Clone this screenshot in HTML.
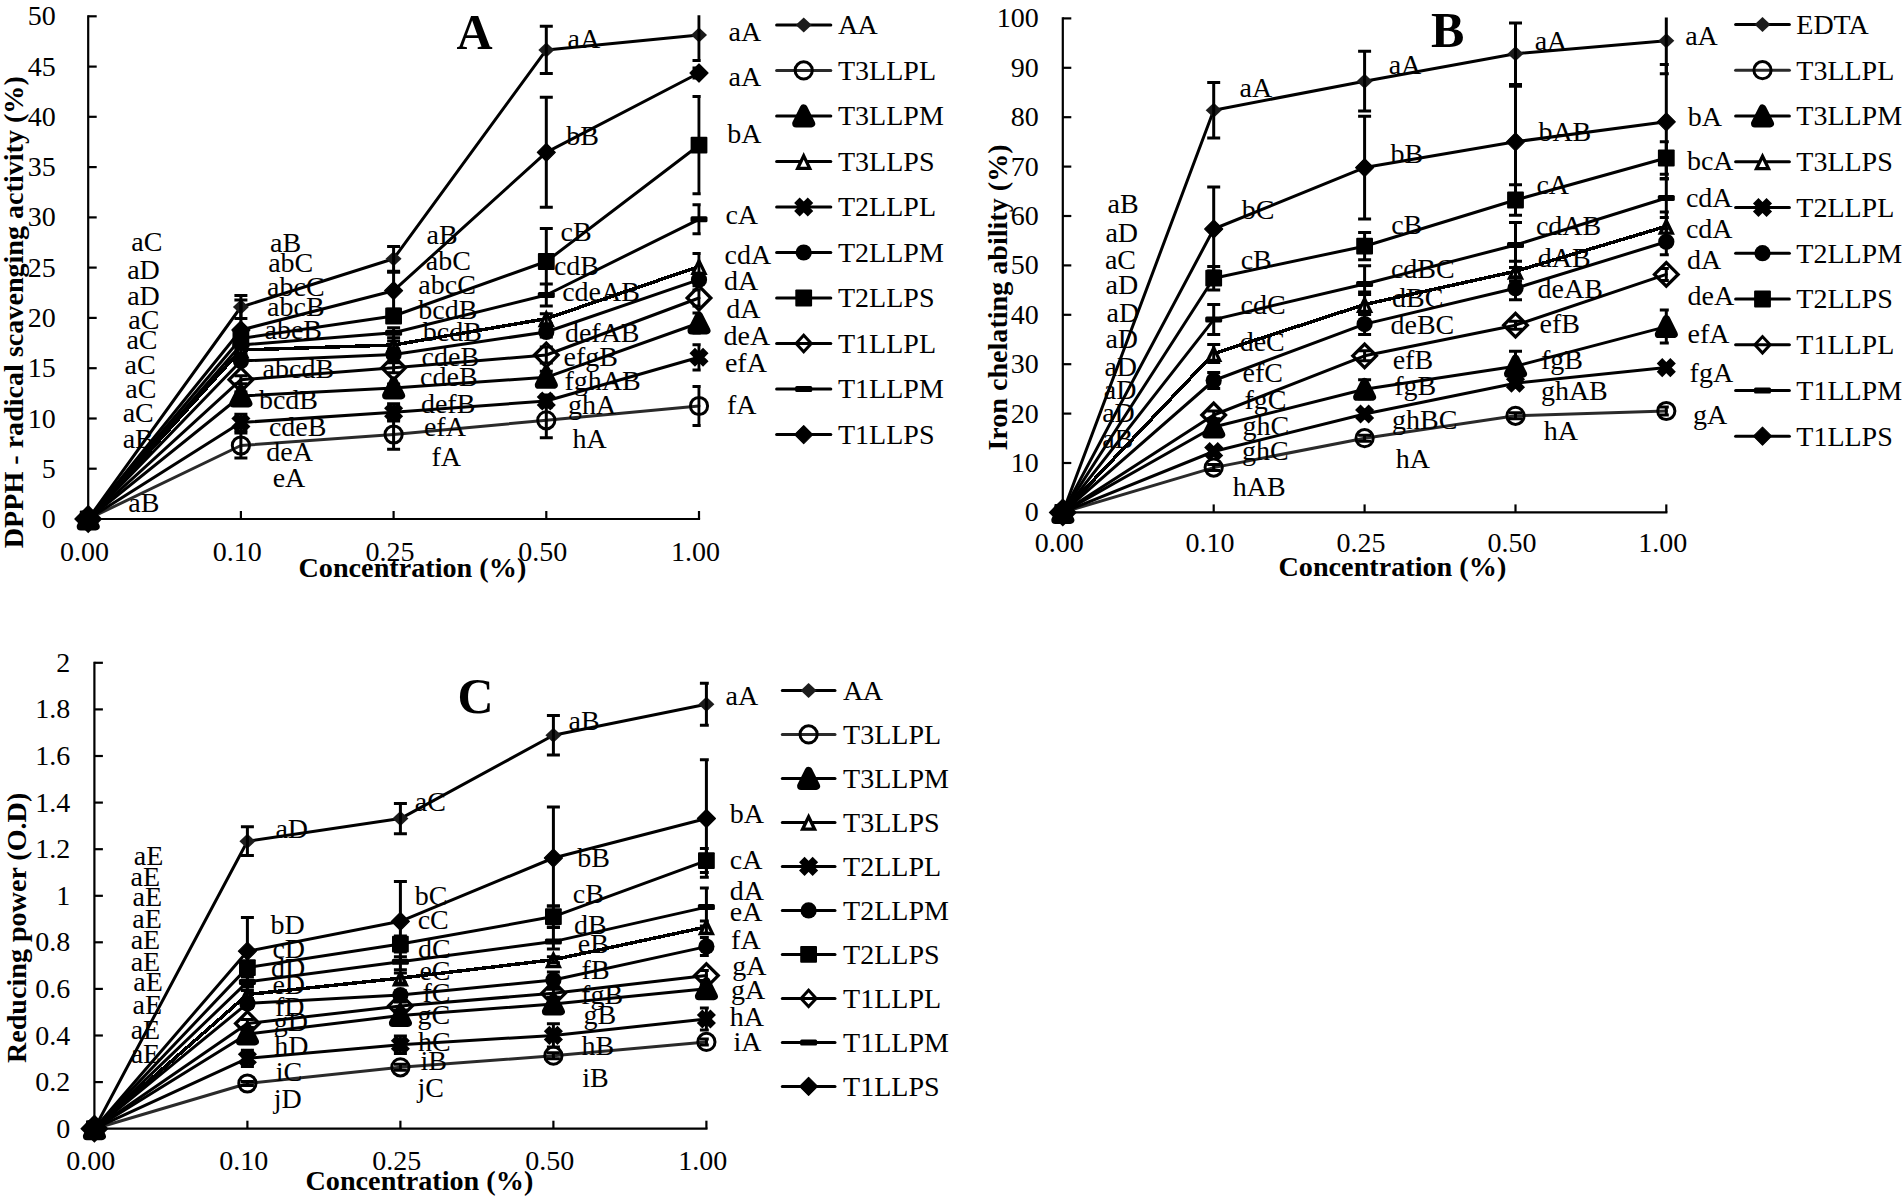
<!DOCTYPE html>
<html lang="en"><head><meta charset="utf-8"><title>Antioxidant activity charts</title>
<style>html,body{margin:0;padding:0;background:#fff}body{width:1904px;height:1200px;overflow:hidden}svg{display:block}</style></head>
<body>
<svg width="1904" height="1200" viewBox="0 0 1904 1200" font-family="'Liberation Serif', serif" font-size="28" fill="#000">
<defs><filter id="soft" x="-30%" y="-30%" width="160%" height="160%"><feGaussianBlur stdDeviation="0.55"/></filter></defs>
<rect width="1904" height="1200" fill="#fff"/>
<g id="chartA">
<clipPath id="clipA"><rect x="68.2" y="15.3" width="632.5" height="532.7"/></clipPath>
<polyline points="88.2,519 240.9,307 393.6,258.8 546.3,49.9 699,34.9" fill="none" stroke="#000" stroke-width="3.0" stroke-linejoin="round" stroke-linecap="round"/>
<path d="M80.2 519L88.2 511.5L96.2 519L88.2 526.5Z" fill="#1c1c1c" filter="url(#soft)"/>
<path d="M232.9 307L240.9 299.5L248.9 307L240.9 314.5Z" fill="#1c1c1c" filter="url(#soft)"/>
<path d="M385.6 258.8L393.6 251.3L401.6 258.8L393.6 266.3Z" fill="#1c1c1c" filter="url(#soft)"/>
<path d="M538.3 49.9L546.3 42.4L554.3 49.9L546.3 57.4Z" fill="#1c1c1c" filter="url(#soft)"/>
<path d="M691.0 34.9L699 27.4L707.0 34.9L699 42.4Z" fill="#1c1c1c" filter="url(#soft)"/>
<path clip-path="url(#clipA)" stroke="#000" stroke-width="3" fill="none" d="M240.9 295.5V318.5M234.4 295.5H247.4M234.4 318.5H247.4M393.6 246.4V271.2M387.1 246.4H400.1M387.1 271.2H400.1M546.3 26.3V73.5M539.8 26.3H552.8M539.8 73.5H552.8M699 9.4V60.4M692.5 9.4H705.5M692.5 60.4H705.5"/>
<polyline points="88.2,519 240.9,445.5 393.6,434.5 546.3,420.3 699,406" fill="none" stroke="#2a2a2a" stroke-width="3.0" stroke-linejoin="round" stroke-linecap="round"/>
<circle cx="88.2" cy="519" r="8.6" fill="none" stroke="#000" stroke-width="3"/>
<circle cx="240.9" cy="445.5" r="8.6" fill="none" stroke="#000" stroke-width="3"/>
<circle cx="393.6" cy="434.5" r="8.6" fill="none" stroke="#000" stroke-width="3"/>
<circle cx="546.3" cy="420.3" r="8.6" fill="none" stroke="#000" stroke-width="3"/>
<circle cx="699" cy="406" r="8.6" fill="none" stroke="#000" stroke-width="3"/>
<path clip-path="url(#clipA)" stroke="#000" stroke-width="3" fill="none" d="M240.9 433.0V458.0M234.4 433.0H247.4M234.4 458.0H247.4M393.6 419.7V449.3M387.1 419.7H400.1M387.1 449.3H400.1M546.3 402.8V437.8M539.8 402.8H552.8M539.8 437.8H552.8M699 386.6V425.4M692.5 386.6H705.5M692.5 425.4H705.5"/>
<polyline points="88.2,519 240.9,396 393.6,388 546.3,377.3 699,323" fill="none" stroke="#000" stroke-width="3.0" stroke-linejoin="round" stroke-linecap="round"/>
<path d="M88.2 511.4L95.8 526.6L80.6 526.6Z" fill="#000" stroke="#000" stroke-width="7.8" stroke-linejoin="round"/>
<path d="M240.9 388.4L248.5 403.6L233.3 403.6Z" fill="#000" stroke="#000" stroke-width="7.8" stroke-linejoin="round"/>
<path d="M393.6 380.4L401.2 395.6L386.0 395.6Z" fill="#000" stroke="#000" stroke-width="7.8" stroke-linejoin="round"/>
<path d="M546.3 369.7L553.9 384.9L538.7 384.9Z" fill="#000" stroke="#000" stroke-width="7.8" stroke-linejoin="round"/>
<path d="M699 315.4L706.6 330.6L691.4 330.6Z" fill="#000" stroke="#000" stroke-width="7.8" stroke-linejoin="round"/>
<path clip-path="url(#clipA)" stroke="#000" stroke-width="3" fill="none" d="M240.9 392.0V400.0M234.4 392.0H247.4M234.4 400.0H247.4M393.6 384.0V392.0M387.1 384.0H400.1M387.1 392.0H400.1M546.3 371.3V383.3M539.8 371.3H552.8M539.8 383.3H552.8M699 313.0V333.0M692.5 313.0H705.5M692.5 333.0H705.5"/>
<polyline points="88.2,519 240.9,350 393.6,345 546.3,318.7 699,266.5" fill="none" stroke="#000" stroke-width="3.5" stroke-linejoin="round" stroke-linecap="round" shape-rendering="crispEdges"/>
<path d="M88.2 513.4L94.2 525.8L82.2 525.8Z" fill="#fff" stroke="#000" stroke-width="3.3" stroke-linejoin="miter"/>
<path d="M240.9 344.4L246.9 356.8L234.9 356.8Z" fill="#fff" stroke="#000" stroke-width="3.3" stroke-linejoin="miter"/>
<path d="M393.6 339.4L399.6 351.8L387.6 351.8Z" fill="#fff" stroke="#000" stroke-width="3.3" stroke-linejoin="miter"/>
<path d="M546.3 313.1L552.3 325.5L540.3 325.5Z" fill="#fff" stroke="#000" stroke-width="3.3" stroke-linejoin="miter"/>
<path d="M699 260.9L705 273.3L693 273.3Z" fill="#fff" stroke="#000" stroke-width="3.3" stroke-linejoin="miter"/>
<path clip-path="url(#clipA)" stroke="#000" stroke-width="3" fill="none" d="M240.9 347.0V353.0M234.4 347.0H247.4M234.4 353.0H247.4M393.6 341.0V349.0M387.1 341.0H400.1M387.1 349.0H400.1M546.3 313.7V323.7M539.8 313.7H552.8M539.8 323.7H552.8M699 253.5V279.5M692.5 253.5H705.5M692.5 279.5H705.5"/>
<polyline points="88.2,519 240.9,422.5 393.6,412.3 546.3,401 699,357.3" fill="none" stroke="#000" stroke-width="3.0" stroke-linejoin="round" stroke-linecap="round"/>
<path d="M81.4 512.2L95.0 525.8M81.4 525.8L95.0 512.2" stroke="#000" stroke-width="7.8" stroke-linecap="butt" fill="none"/>
<path d="M234.1 415.7L247.7 429.3M234.1 429.3L247.7 415.7" stroke="#000" stroke-width="7.8" stroke-linecap="butt" fill="none"/>
<path d="M386.8 405.5L400.4 419.1M386.8 419.1L400.4 405.5" stroke="#000" stroke-width="7.8" stroke-linecap="butt" fill="none"/>
<path d="M539.5 394.2L553.1 407.8M539.5 407.8L553.1 394.2" stroke="#000" stroke-width="7.8" stroke-linecap="butt" fill="none"/>
<path d="M692.2 350.5L705.8 364.1M692.2 364.1L705.8 350.5" stroke="#000" stroke-width="7.8" stroke-linecap="butt" fill="none"/>
<path clip-path="url(#clipA)" stroke="#000" stroke-width="3" fill="none" d="M240.9 414.2V430.8M234.4 414.2H247.4M234.4 430.8H247.4M393.6 403.7V420.9M387.1 403.7H400.1M387.1 420.9H400.1M546.3 395.0V407.0M539.8 395.0H552.8M539.8 407.0H552.8M699 344.7V369.9M692.5 344.7H705.5M692.5 369.9H705.5"/>
<polyline points="88.2,519 240.9,361 393.6,354.4 546.3,332 699,279.7" fill="none" stroke="#000" stroke-width="3.0" stroke-linejoin="round" stroke-linecap="round"/>
<circle cx="88.2" cy="519" r="8.1" fill="#000"/>
<circle cx="240.9" cy="361" r="8.1" fill="#000"/>
<circle cx="393.6" cy="354.4" r="8.1" fill="#000"/>
<circle cx="546.3" cy="332" r="8.1" fill="#000"/>
<circle cx="699" cy="279.7" r="8.1" fill="#000"/>
<path clip-path="url(#clipA)" stroke="#000" stroke-width="3" fill="none" d="M240.9 358.0V364.0M234.4 358.0H247.4M234.4 364.0H247.4M393.6 351.4V357.4M387.1 351.4H400.1M387.1 357.4H400.1M546.3 327.0V337.0M539.8 327.0H552.8M539.8 337.0H552.8M699 273.7V285.7M692.5 273.7H705.5M692.5 285.7H705.5"/>
<polyline points="88.2,519 240.9,338.5 393.6,316 546.3,261.5 699,145.2" fill="none" stroke="#000" stroke-width="3.0" stroke-linejoin="round" stroke-linecap="round"/>
<rect x="79.8" y="510.6" width="16.8" height="16.8" rx="1" fill="#000"/>
<rect x="232.5" y="330.1" width="16.8" height="16.8" rx="1" fill="#000"/>
<rect x="385.2" y="307.6" width="16.8" height="16.8" rx="1" fill="#000"/>
<rect x="537.9" y="253.1" width="16.8" height="16.8" rx="1" fill="#000"/>
<rect x="690.6" y="136.8" width="16.8" height="16.8" rx="1" fill="#000"/>
<path clip-path="url(#clipA)" stroke="#000" stroke-width="3" fill="none" d="M240.9 334.5V342.5M234.4 334.5H247.4M234.4 342.5H247.4M393.6 310.0V322.0M387.1 310.0H400.1M387.1 322.0H400.1M546.3 228.5V294.5M539.8 228.5H552.8M539.8 294.5H552.8M699 96.6V193.8M692.5 96.6H705.5M692.5 193.8H705.5"/>
<polyline points="88.2,519 240.9,379.7 393.6,367.8 546.3,355 699,298" fill="none" stroke="#000" stroke-width="3.0" stroke-linejoin="round" stroke-linecap="round"/>
<path d="M76.4 519L88.2 507.2L100.0 519L88.2 530.8Z" fill="none" stroke="#000" stroke-width="3.3" stroke-linejoin="miter"/>
<path d="M229.1 379.7L240.9 367.9L252.7 379.7L240.9 391.5Z" fill="none" stroke="#000" stroke-width="3.3" stroke-linejoin="miter"/>
<path d="M381.8 367.8L393.6 356.0L405.4 367.8L393.6 379.6Z" fill="none" stroke="#000" stroke-width="3.3" stroke-linejoin="miter"/>
<path d="M534.5 355L546.3 343.2L558.1 355L546.3 366.8Z" fill="none" stroke="#000" stroke-width="3.3" stroke-linejoin="miter"/>
<path d="M687.2 298L699 286.2L710.8 298L699 309.8Z" fill="none" stroke="#000" stroke-width="3.3" stroke-linejoin="miter"/>
<path clip-path="url(#clipA)" stroke="#000" stroke-width="3" fill="none" d="M240.9 375.7V383.7M234.4 375.7H247.4M234.4 383.7H247.4M393.6 362.8V372.8M387.1 362.8H400.1M387.1 372.8H400.1M546.3 347.0V363.0M539.8 347.0H552.8M539.8 363.0H552.8M699 290.0V306.0M692.5 290.0H705.5M692.5 306.0H705.5"/>
<polyline points="88.2,519 240.9,345 393.6,332.8 546.3,295 699,219.3" fill="none" stroke="#000" stroke-width="3.0" stroke-linejoin="round" stroke-linecap="round"/>
<rect x="79.7" y="516" width="17" height="6" rx="1.5" fill="#000"/>
<rect x="232.4" y="342" width="17" height="6" rx="1.5" fill="#000"/>
<rect x="385.1" y="329.8" width="17" height="6" rx="1.5" fill="#000"/>
<rect x="537.8" y="292" width="17" height="6" rx="1.5" fill="#000"/>
<rect x="690.5" y="216.3" width="17" height="6" rx="1.5" fill="#000"/>
<path clip-path="url(#clipA)" stroke="#000" stroke-width="3" fill="none" d="M240.9 341.0V349.0M234.4 341.0H247.4M234.4 349.0H247.4M393.6 327.8V337.8M387.1 327.8H400.1M387.1 337.8H400.1M546.3 284.0V306.0M539.8 284.0H552.8M539.8 306.0H552.8M699 204.8V233.8M692.5 204.8H705.5M692.5 233.8H705.5"/>
<polyline points="88.2,519 240.9,330 393.6,290.7 546.3,152.3 699,73" fill="none" stroke="#000" stroke-width="3.0" stroke-linejoin="round" stroke-linecap="round"/>
<path d="M79.2 519L88.2 510L97.2 519L88.2 528Z" fill="#000" stroke="#000" stroke-width="1.2" stroke-linejoin="round"/>
<path d="M231.9 330L240.9 321L249.9 330L240.9 339Z" fill="#000" stroke="#000" stroke-width="1.2" stroke-linejoin="round"/>
<path d="M384.6 290.7L393.6 281.7L402.6 290.7L393.6 299.7Z" fill="#000" stroke="#000" stroke-width="1.2" stroke-linejoin="round"/>
<path d="M537.3 152.3L546.3 143.3L555.3 152.3L546.3 161.3Z" fill="#000" stroke="#000" stroke-width="1.2" stroke-linejoin="round"/>
<path d="M690 73L699 64L708 73L699 82Z" fill="#000" stroke="#000" stroke-width="1.2" stroke-linejoin="round"/>
<path clip-path="url(#clipA)" stroke="#000" stroke-width="3" fill="none" d="M240.9 300.0V335.0M234.4 300.0H247.4M234.4 335.0H247.4M393.6 272.2V309.2M387.1 272.2H400.1M387.1 309.2H400.1M546.3 97.3V207.3M539.8 97.3H552.8M539.8 207.3H552.8M699 68.0V78.0M692.5 68.0H705.5M692.5 78.0H705.5"/>
<path d="M88.2 16.3V519H699" fill="none" stroke="#000" stroke-width="2.2" stroke-linejoin="miter" stroke-linecap="square"/>
<path d="M88.2 519.0h8.5" stroke="#000" stroke-width="2.2"/>
<text x="55.8" y="528.0" text-anchor="end">0</text>
<path d="M88.2 468.7h8.5" stroke="#000" stroke-width="2.2"/>
<text x="55.8" y="477.7" text-anchor="end">5</text>
<path d="M88.2 418.5h8.5" stroke="#000" stroke-width="2.2"/>
<text x="55.8" y="427.5" text-anchor="end">10</text>
<path d="M88.2 368.2h8.5" stroke="#000" stroke-width="2.2"/>
<text x="55.8" y="377.2" text-anchor="end">15</text>
<path d="M88.2 317.9h8.5" stroke="#000" stroke-width="2.2"/>
<text x="55.8" y="326.9" text-anchor="end">20</text>
<path d="M88.2 267.6h8.5" stroke="#000" stroke-width="2.2"/>
<text x="55.8" y="276.6" text-anchor="end">25</text>
<path d="M88.2 217.4h8.5" stroke="#000" stroke-width="2.2"/>
<text x="55.8" y="226.4" text-anchor="end">30</text>
<path d="M88.2 167.1h8.5" stroke="#000" stroke-width="2.2"/>
<text x="55.8" y="176.1" text-anchor="end">35</text>
<path d="M88.2 116.8h8.5" stroke="#000" stroke-width="2.2"/>
<text x="55.8" y="125.8" text-anchor="end">40</text>
<path d="M88.2 66.6h8.5" stroke="#000" stroke-width="2.2"/>
<text x="55.8" y="75.6" text-anchor="end">45</text>
<path d="M88.2 16.3h8.5" stroke="#000" stroke-width="2.2"/>
<text x="55.8" y="25.3" text-anchor="end">50</text>
<path d="M88.2 519v-8" stroke="#000" stroke-width="2.2"/>
<text x="84.6" y="560.6" text-anchor="middle">0.00</text>
<path d="M240.9 519v-8" stroke="#000" stroke-width="2.2"/>
<text x="237.3" y="560.6" text-anchor="middle">0.10</text>
<path d="M393.6 519v-8" stroke="#000" stroke-width="2.2"/>
<text x="390.0" y="560.6" text-anchor="middle">0.25</text>
<path d="M546.3 519v-8" stroke="#000" stroke-width="2.2"/>
<text x="542.7" y="560.6" text-anchor="middle">0.50</text>
<path d="M699 519v-8" stroke="#000" stroke-width="2.2"/>
<text x="695.4" y="560.6" text-anchor="middle">1.00</text>
<text x="412.4" y="576.8" text-anchor="middle" font-weight="bold" font-size="28.2">Concentration (%)</text>
<text transform="translate(23.2 312.2) rotate(-90)" text-anchor="middle" font-weight="bold" font-size="28.1">DPPH - radical scavenging activity (%)</text>
<text x="456.6" y="49" font-weight="bold" font-size="50">A</text>
<text x="131.3" y="251.0">aC</text>
<text x="127.2" y="279.1">aD</text>
<text x="127.2" y="305.4">aD</text>
<text x="128.3" y="328.6">aC</text>
<text x="126.4" y="348.6">aC</text>
<text x="124.6" y="373.6">aC</text>
<text x="125.3" y="398.4">aC</text>
<text x="122.7" y="422.4">aC</text>
<text x="122.7" y="447.9">aB</text>
<text x="128.3" y="511.6">aB</text>
<text x="270.1" y="252.1">aB</text>
<text x="268.2" y="272.4">abC</text>
<text x="267.1" y="296.0">abcC</text>
<text x="267.1" y="315.9">abcB</text>
<text x="264.5" y="339.1">abeB</text>
<text x="262.6" y="377.8">abcdB</text>
<text x="258.9" y="408.6">bcdB</text>
<text x="268.9" y="435.6">cdeB</text>
<text x="266.3" y="461.1">deA</text>
<text x="272.7" y="487.3">eA</text>
<text x="426.5" y="243.5">aB</text>
<text x="425.8" y="269.8">abC</text>
<text x="418.3" y="294.1">abcC</text>
<text x="418.3" y="318.5">bcdB</text>
<text x="422.8" y="341.0">bcdB</text>
<text x="421.6" y="366.2">cdeB</text>
<text x="420.1" y="386.0">cdeB</text>
<text x="420.9" y="413.0">defB</text>
<text x="423.9" y="435.9">efA</text>
<text x="431.4" y="465.9">fA</text>
<text x="567.6" y="48.3">aA</text>
<text x="566.3" y="144.7">bB</text>
<text x="560.5" y="240.6">cB</text>
<text x="553.9" y="274.7">cdB</text>
<text x="562.2" y="300.8">cdeAB</text>
<text x="564.9" y="342.4">defAB</text>
<text x="563.6" y="365.6">efgB</text>
<text x="564.4" y="389.6">fghAB</text>
<text x="568.1" y="414.1">ghA</text>
<text x="572.4" y="448.3">hA</text>
<text x="728.6" y="40.5">aA</text>
<text x="728.6" y="86.2">aA</text>
<text x="727.3" y="142.9">bA</text>
<text x="725.4" y="224.3">cA</text>
<text x="724.6" y="263.6">cdA</text>
<text x="723.9" y="289.9">dA</text>
<text x="726.2" y="317.6">dA</text>
<text x="723.6" y="345.1">deA</text>
<text x="724.9" y="372.3">efA</text>
<text x="726.9" y="414.1">fA</text>
<path d="M776.6 24.9H830.8" stroke="#000" stroke-width="3.0" stroke-linecap="round"/>
<path d="M795.7 24.9L803.7 17.4L811.7 24.9L803.7 32.4Z" fill="#1c1c1c" filter="url(#soft)"/>
<text x="838" y="34.2" letter-spacing="-0.6">AA</text>
<path d="M776.6 70.4H830.8" stroke="#2a2a2a" stroke-width="3.0" stroke-linecap="round"/>
<circle cx="803.7" cy="70.4" r="8.6" fill="none" stroke="#000" stroke-width="3"/>
<text x="838" y="79.7" letter-spacing="0">T3LLPL</text>
<path d="M776.6 115.9H830.8" stroke="#000" stroke-width="3.0" stroke-linecap="round"/>
<path d="M803.7 108.3L811.3 123.5L796.1 123.5Z" fill="#000" stroke="#000" stroke-width="7.8" stroke-linejoin="round"/>
<text x="838" y="125.2" letter-spacing="0">T3LLPM</text>
<path d="M776.6 161.5H830.8" stroke="#000" stroke-width="3.0" stroke-linecap="round"/>
<path d="M803.7 155.9L809.7 168.3L797.7 168.3Z" fill="#fff" stroke="#000" stroke-width="3.3" stroke-linejoin="miter"/>
<text x="838" y="170.8" letter-spacing="0">T3LLPS</text>
<path d="M776.6 207.0H830.8" stroke="#000" stroke-width="3.0" stroke-linecap="round"/>
<path d="M796.9 200.2L810.5 213.8M796.9 213.8L810.5 200.2" stroke="#000" stroke-width="7.8" stroke-linecap="butt" fill="none"/>
<text x="838" y="216.3" letter-spacing="0">T2LLPL</text>
<path d="M776.6 252.5H830.8" stroke="#000" stroke-width="3.0" stroke-linecap="round"/>
<circle cx="803.7" cy="252.5" r="8.1" fill="#000"/>
<text x="838" y="261.8" letter-spacing="0">T2LLPM</text>
<path d="M776.6 298.0H830.8" stroke="#000" stroke-width="3.0" stroke-linecap="round"/>
<rect x="795.3" y="289.6" width="16.8" height="16.8" rx="1" fill="#000"/>
<text x="838" y="307.3" letter-spacing="0">T2LLPS</text>
<path d="M776.6 343.5H830.8" stroke="#000" stroke-width="3.0" stroke-linecap="round"/>
<path d="M796.1 343.5L803.7 335.3L811.3 343.5L803.7 351.7Z" fill="none" stroke="#000" stroke-width="3" stroke-linejoin="miter"/>
<text x="838" y="352.8" letter-spacing="0">T1LLPL</text>
<path d="M776.6 389.1H830.8" stroke="#000" stroke-width="3.0" stroke-linecap="round"/>
<rect x="795.2" y="386.1" width="17" height="6" rx="1.5" fill="#000"/>
<text x="838" y="398.4" letter-spacing="0">T1LLPM</text>
<path d="M776.6 434.6H830.8" stroke="#000" stroke-width="3.0" stroke-linecap="round"/>
<path d="M794.7 434.6L803.7 425.6L812.7 434.6L803.7 443.6Z" fill="#000" stroke="#000" stroke-width="1.2" stroke-linejoin="round"/>
<text x="838" y="443.9" letter-spacing="0">T1LLPS</text>
</g>
<g id="chartB">
<clipPath id="clipB"><rect x="1042.8" y="17.4" width="626.0" height="524.0"/></clipPath>
<polyline points="1062.8,512.4 1213.7,110.2 1364.6,81.2 1515.5,53.75 1666.3,40.75" fill="none" stroke="#000" stroke-width="3.0" stroke-linejoin="round" stroke-linecap="round"/>
<path d="M1054.8 512.4L1062.8 504.9L1070.8 512.4L1062.8 519.9Z" fill="#1c1c1c" filter="url(#soft)"/>
<path d="M1205.7 110.2L1213.7 102.7L1221.7 110.2L1213.7 117.7Z" fill="#1c1c1c" filter="url(#soft)"/>
<path d="M1356.6 81.2L1364.6 73.7L1372.6 81.2L1364.6 88.7Z" fill="#1c1c1c" filter="url(#soft)"/>
<path d="M1507.5 53.8L1515.5 46.3L1523.5 53.8L1515.5 61.3Z" fill="#1c1c1c" filter="url(#soft)"/>
<path d="M1658.3 40.8L1666.3 33.3L1674.3 40.8L1666.3 48.3Z" fill="#1c1c1c" filter="url(#soft)"/>
<path clip-path="url(#clipB)" stroke="#000" stroke-width="3" fill="none" d="M1213.7 82.4V138.0M1207.2 82.4H1220.2M1207.2 138.0H1220.2M1364.6 51.3V111.1M1358.1 51.3H1371.1M1358.1 111.1H1371.1M1515.5 22.9V84.5M1509.0 22.9H1522.0M1509.0 84.5H1522.0M1666.3 7.8V73.8M1659.8 7.8H1672.8M1659.8 73.8H1672.8"/>
<polyline points="1062.8,512.4 1213.7,467.6 1364.6,438.2 1515.5,415.8 1666.3,411" fill="none" stroke="#2a2a2a" stroke-width="3.0" stroke-linejoin="round" stroke-linecap="round"/>
<circle cx="1062.8" cy="512.4" r="8.6" fill="none" stroke="#000" stroke-width="3"/>
<circle cx="1213.7" cy="467.6" r="8.6" fill="none" stroke="#000" stroke-width="3"/>
<circle cx="1364.6" cy="438.2" r="8.6" fill="none" stroke="#000" stroke-width="3"/>
<circle cx="1515.5" cy="415.8" r="8.6" fill="none" stroke="#000" stroke-width="3"/>
<circle cx="1666.3" cy="411" r="8.6" fill="none" stroke="#000" stroke-width="3"/>
<path clip-path="url(#clipB)" stroke="#000" stroke-width="3" fill="none" d="M1213.7 464.6V470.6M1207.2 464.6H1220.2M1207.2 470.6H1220.2M1364.6 435.2V441.2M1358.1 435.2H1371.1M1358.1 441.2H1371.1M1515.5 412.8V418.8M1509.0 412.8H1522.0M1509.0 418.8H1522.0M1666.3 407.0V415.0M1659.8 407.0H1672.8M1659.8 415.0H1672.8"/>
<polyline points="1062.8,512.4 1213.7,427 1364.6,389.3 1515.5,366.2 1666.3,326.6" fill="none" stroke="#000" stroke-width="3.0" stroke-linejoin="round" stroke-linecap="round"/>
<path d="M1062.8 504.8L1070.4 520.0L1055.2 520.0Z" fill="#000" stroke="#000" stroke-width="7.8" stroke-linejoin="round"/>
<path d="M1213.7 419.4L1221.3 434.6L1206.1 434.6Z" fill="#000" stroke="#000" stroke-width="7.8" stroke-linejoin="round"/>
<path d="M1364.6 381.7L1372.2 396.9L1357.0 396.9Z" fill="#000" stroke="#000" stroke-width="7.8" stroke-linejoin="round"/>
<path d="M1515.5 358.6L1523.1 373.8L1507.9 373.8Z" fill="#000" stroke="#000" stroke-width="7.8" stroke-linejoin="round"/>
<path d="M1666.3 319.0L1673.9 334.2L1658.7 334.2Z" fill="#000" stroke="#000" stroke-width="7.8" stroke-linejoin="round"/>
<path clip-path="url(#clipB)" stroke="#000" stroke-width="3" fill="none" d="M1213.7 419.0V435.0M1207.2 419.0H1220.2M1207.2 435.0H1220.2M1364.6 379.8V398.8M1358.1 379.8H1371.1M1358.1 398.8H1371.1M1515.5 351.2V381.2M1509.0 351.2H1522.0M1509.0 381.2H1522.0M1666.3 310.1V343.1M1659.8 310.1H1672.8M1659.8 343.1H1672.8"/>
<polyline points="1062.8,512.4 1213.7,353.6 1364.6,304.5 1515.5,271.3 1666.3,226.3" fill="none" stroke="#000" stroke-width="3.5" stroke-linejoin="round" stroke-linecap="round" shape-rendering="crispEdges"/>
<path d="M1062.8 506.8L1068.8 519.2L1056.8 519.2Z" fill="#fff" stroke="#000" stroke-width="3.3" stroke-linejoin="miter"/>
<path d="M1213.7 348.0L1219.7 360.4L1207.7 360.4Z" fill="#fff" stroke="#000" stroke-width="3.3" stroke-linejoin="miter"/>
<path d="M1364.6 298.9L1370.6 311.3L1358.6 311.3Z" fill="#fff" stroke="#000" stroke-width="3.3" stroke-linejoin="miter"/>
<path d="M1515.5 265.7L1521.5 278.1L1509.5 278.1Z" fill="#fff" stroke="#000" stroke-width="3.3" stroke-linejoin="miter"/>
<path d="M1666.3 220.7L1672.3 233.1L1660.3 233.1Z" fill="#fff" stroke="#000" stroke-width="3.3" stroke-linejoin="miter"/>
<path clip-path="url(#clipB)" stroke="#000" stroke-width="3" fill="none" d="M1213.7 344.6V362.6M1207.2 344.6H1220.2M1207.2 362.6H1220.2M1364.6 294.5V314.5M1358.1 294.5H1371.1M1358.1 314.5H1371.1M1515.5 261.3V281.3M1509.0 261.3H1522.0M1509.0 281.3H1522.0M1666.3 212.0V240.6M1659.8 212.0H1672.8M1659.8 240.6H1672.8"/>
<polyline points="1062.8,512.4 1213.7,451.5 1364.6,414 1515.5,383.2 1666.3,367.6" fill="none" stroke="#000" stroke-width="3.0" stroke-linejoin="round" stroke-linecap="round"/>
<path d="M1056.0 505.6L1069.6 519.2M1056.0 519.2L1069.6 505.6" stroke="#000" stroke-width="7.8" stroke-linecap="butt" fill="none"/>
<path d="M1206.9 444.7L1220.5 458.3M1206.9 458.3L1220.5 444.7" stroke="#000" stroke-width="7.8" stroke-linecap="butt" fill="none"/>
<path d="M1357.8 407.2L1371.4 420.8M1357.8 420.8L1371.4 407.2" stroke="#000" stroke-width="7.8" stroke-linecap="butt" fill="none"/>
<path d="M1508.7 376.4L1522.3 390.0M1508.7 390.0L1522.3 376.4" stroke="#000" stroke-width="7.8" stroke-linecap="butt" fill="none"/>
<path d="M1659.5 360.8L1673.1 374.4M1659.5 374.4L1673.1 360.8" stroke="#000" stroke-width="7.8" stroke-linecap="butt" fill="none"/>
<path clip-path="url(#clipB)" stroke="#000" stroke-width="3" fill="none" d="M1213.7 447.5V455.5M1207.2 447.5H1220.2M1207.2 455.5H1220.2M1364.6 410.0V418.0M1358.1 410.0H1371.1M1358.1 418.0H1371.1M1515.5 379.2V387.2M1509.0 379.2H1522.0M1509.0 387.2H1522.0M1666.3 364.6V370.6M1659.8 364.6H1672.8M1659.8 370.6H1672.8"/>
<polyline points="1062.8,512.4 1213.7,380.5 1364.6,324.1 1515.5,288.3 1666.3,241.75" fill="none" stroke="#000" stroke-width="3.0" stroke-linejoin="round" stroke-linecap="round"/>
<circle cx="1062.8" cy="512.4" r="8.1" fill="#000"/>
<circle cx="1213.7" cy="380.5" r="8.1" fill="#000"/>
<circle cx="1364.6" cy="324.1" r="8.1" fill="#000"/>
<circle cx="1515.5" cy="288.3" r="8.1" fill="#000"/>
<circle cx="1666.3" cy="241.8" r="8.1" fill="#000"/>
<path clip-path="url(#clipB)" stroke="#000" stroke-width="3" fill="none" d="M1213.7 372.5V388.5M1207.2 372.5H1220.2M1207.2 388.5H1220.2M1364.6 313.7V334.5M1358.1 313.7H1371.1M1358.1 334.5H1371.1M1515.5 276.8V299.8M1509.0 276.8H1522.0M1509.0 299.8H1522.0M1666.3 228.8V254.8M1659.8 228.8H1672.8M1659.8 254.8H1672.8"/>
<polyline points="1062.8,512.4 1213.7,278.2 1364.6,246.2 1515.5,200 1666.3,158" fill="none" stroke="#000" stroke-width="3.0" stroke-linejoin="round" stroke-linecap="round"/>
<rect x="1054.4" y="504.0" width="16.8" height="16.8" rx="1" fill="#000"/>
<rect x="1205.3" y="269.8" width="16.8" height="16.8" rx="1" fill="#000"/>
<rect x="1356.2" y="237.8" width="16.8" height="16.8" rx="1" fill="#000"/>
<rect x="1507.1" y="191.6" width="16.8" height="16.8" rx="1" fill="#000"/>
<rect x="1657.9" y="149.6" width="16.8" height="16.8" rx="1" fill="#000"/>
<path clip-path="url(#clipB)" stroke="#000" stroke-width="3" fill="none" d="M1213.7 266.5V289.9M1207.2 266.5H1220.2M1207.2 289.9H1220.2M1364.6 232.6V259.8M1358.1 232.6H1371.1M1358.1 259.8H1371.1M1515.5 184.7V215.3M1509.0 184.7H1522.0M1509.0 215.3H1522.0M1666.3 141.8V174.2M1659.8 141.8H1672.8M1659.8 174.2H1672.8"/>
<polyline points="1062.8,512.4 1213.7,415 1364.6,355.8 1515.5,325.2 1666.3,274.4" fill="none" stroke="#000" stroke-width="3.0" stroke-linejoin="round" stroke-linecap="round"/>
<path d="M1051.0 512.4L1062.8 500.6L1074.6 512.4L1062.8 524.2Z" fill="none" stroke="#000" stroke-width="3.3" stroke-linejoin="miter"/>
<path d="M1201.9 415L1213.7 403.2L1225.5 415L1213.7 426.8Z" fill="none" stroke="#000" stroke-width="3.3" stroke-linejoin="miter"/>
<path d="M1352.8 355.8L1364.6 344.0L1376.4 355.8L1364.6 367.6Z" fill="none" stroke="#000" stroke-width="3.3" stroke-linejoin="miter"/>
<path d="M1503.7 325.2L1515.5 313.4L1527.3 325.2L1515.5 337.0Z" fill="none" stroke="#000" stroke-width="3.3" stroke-linejoin="miter"/>
<path d="M1654.5 274.4L1666.3 262.6L1678.1 274.4L1666.3 286.2Z" fill="none" stroke="#000" stroke-width="3.3" stroke-linejoin="miter"/>
<path clip-path="url(#clipB)" stroke="#000" stroke-width="3" fill="none" d="M1213.7 411.0V419.0M1207.2 411.0H1220.2M1207.2 419.0H1220.2M1364.6 350.8V360.8M1358.1 350.8H1371.1M1358.1 360.8H1371.1M1515.5 321.2V329.2M1509.0 321.2H1522.0M1509.0 329.2H1522.0M1666.3 268.4V280.4M1659.8 268.4H1672.8M1659.8 280.4H1672.8"/>
<polyline points="1062.8,512.4 1213.7,319.6 1364.6,284 1515.5,245 1666.3,198" fill="none" stroke="#000" stroke-width="3.0" stroke-linejoin="round" stroke-linecap="round"/>
<rect x="1054.3" y="509.4" width="17" height="6" rx="1.5" fill="#000"/>
<rect x="1205.2" y="316.6" width="17" height="6" rx="1.5" fill="#000"/>
<rect x="1356.1" y="281" width="17" height="6" rx="1.5" fill="#000"/>
<rect x="1507.0" y="242" width="17" height="6" rx="1.5" fill="#000"/>
<rect x="1657.8" y="195" width="17" height="6" rx="1.5" fill="#000"/>
<path clip-path="url(#clipB)" stroke="#000" stroke-width="3" fill="none" d="M1213.7 304.6V334.6M1207.2 304.6H1220.2M1207.2 334.6H1220.2M1364.6 265.8V292.0M1358.1 265.8H1371.1M1358.1 292.0H1371.1M1515.5 222.5V267.5M1509.0 222.5H1522.0M1509.0 267.5H1522.0M1666.3 178.5V217.5M1659.8 178.5H1672.8M1659.8 217.5H1672.8"/>
<polyline points="1062.8,512.4 1213.7,229 1364.6,167.6 1515.5,141.75 1666.3,121.75" fill="none" stroke="#000" stroke-width="3.0" stroke-linejoin="round" stroke-linecap="round"/>
<path d="M1053.8 512.4L1062.8 503.4L1071.8 512.4L1062.8 521.4Z" fill="#000" stroke="#000" stroke-width="1.2" stroke-linejoin="round"/>
<path d="M1204.7 229L1213.7 220L1222.7 229L1213.7 238Z" fill="#000" stroke="#000" stroke-width="1.2" stroke-linejoin="round"/>
<path d="M1355.6 167.6L1364.6 158.6L1373.6 167.6L1364.6 176.6Z" fill="#000" stroke="#000" stroke-width="1.2" stroke-linejoin="round"/>
<path d="M1506.5 141.8L1515.5 132.8L1524.5 141.8L1515.5 150.8Z" fill="#000" stroke="#000" stroke-width="1.2" stroke-linejoin="round"/>
<path d="M1657.3 121.8L1666.3 112.8L1675.3 121.8L1666.3 130.8Z" fill="#000" stroke="#000" stroke-width="1.2" stroke-linejoin="round"/>
<path clip-path="url(#clipB)" stroke="#000" stroke-width="3" fill="none" d="M1213.7 187.0V271.0M1207.2 187.0H1220.2M1207.2 271.0H1220.2M1364.6 116.2V219.0M1358.1 116.2H1371.1M1358.1 219.0H1371.1M1515.5 86.2V197.2M1509.0 86.2H1522.0M1509.0 197.2H1522.0M1666.3 64.5V179.0M1659.8 64.5H1672.8M1659.8 179.0H1672.8"/>
<path d="M1062.8 18.4V512.4H1666.3" fill="none" stroke="#000" stroke-width="2.2" stroke-linejoin="miter" stroke-linecap="square"/>
<path d="M1062.8 512.4h8.5" stroke="#000" stroke-width="2.2"/>
<text x="1038.8" y="521.4" text-anchor="end">0</text>
<path d="M1062.8 463.0h8.5" stroke="#000" stroke-width="2.2"/>
<text x="1038.8" y="472.0" text-anchor="end">10</text>
<path d="M1062.8 413.6h8.5" stroke="#000" stroke-width="2.2"/>
<text x="1038.8" y="422.6" text-anchor="end">20</text>
<path d="M1062.8 364.2h8.5" stroke="#000" stroke-width="2.2"/>
<text x="1038.8" y="373.2" text-anchor="end">30</text>
<path d="M1062.8 314.8h8.5" stroke="#000" stroke-width="2.2"/>
<text x="1038.8" y="323.8" text-anchor="end">40</text>
<path d="M1062.8 265.4h8.5" stroke="#000" stroke-width="2.2"/>
<text x="1038.8" y="274.4" text-anchor="end">50</text>
<path d="M1062.8 216.0h8.5" stroke="#000" stroke-width="2.2"/>
<text x="1038.8" y="225.0" text-anchor="end">60</text>
<path d="M1062.8 166.6h8.5" stroke="#000" stroke-width="2.2"/>
<text x="1038.8" y="175.6" text-anchor="end">70</text>
<path d="M1062.8 117.2h8.5" stroke="#000" stroke-width="2.2"/>
<text x="1038.8" y="126.2" text-anchor="end">80</text>
<path d="M1062.8 67.8h8.5" stroke="#000" stroke-width="2.2"/>
<text x="1038.8" y="76.8" text-anchor="end">90</text>
<path d="M1062.8 18.4h8.5" stroke="#000" stroke-width="2.2"/>
<text x="1038.8" y="27.4" text-anchor="end">100</text>
<path d="M1062.8 512.4v-8" stroke="#000" stroke-width="2.2"/>
<text x="1059.2" y="552.3" text-anchor="middle">0.00</text>
<path d="M1213.7 512.4v-8" stroke="#000" stroke-width="2.2"/>
<text x="1210.1" y="552.3" text-anchor="middle">0.10</text>
<path d="M1364.6 512.4v-8" stroke="#000" stroke-width="2.2"/>
<text x="1361.0" y="552.3" text-anchor="middle">0.25</text>
<path d="M1515.5 512.4v-8" stroke="#000" stroke-width="2.2"/>
<text x="1511.9" y="552.3" text-anchor="middle">0.50</text>
<path d="M1666.3 512.4v-8" stroke="#000" stroke-width="2.2"/>
<text x="1662.7" y="552.3" text-anchor="middle">1.00</text>
<text x="1392.4" y="575.6" text-anchor="middle" font-weight="bold" font-size="28.2">Concentration (%)</text>
<text transform="translate(1007 297.5) rotate(-90)" text-anchor="middle" font-weight="bold" font-size="28.1">Iron chelating ability (%)</text>
<text x="1431" y="47" font-weight="bold" font-size="50">B</text>
<text x="1107.6" y="212.6">aB</text>
<text x="1105.4" y="242.0">aD</text>
<text x="1104.9" y="268.6">aC</text>
<text x="1105.5" y="293.8">aD</text>
<text x="1106.6" y="321.6">aD</text>
<text x="1105.4" y="347.9">aD</text>
<text x="1104.4" y="375.5">aD</text>
<text x="1103.8" y="398.6">aD</text>
<text x="1102.2" y="422.3">aD</text>
<text x="1102.2" y="447.7">aB</text>
<text x="1239.5" y="97.4">aA</text>
<text x="1241.7" y="218.9">bC</text>
<text x="1240.7" y="269.3">cB</text>
<text x="1240.6" y="313.7">cdC</text>
<text x="1239.7" y="351.1">deC</text>
<text x="1242.5" y="381.8">efC</text>
<text x="1244.4" y="409.0">fgC</text>
<text x="1242.5" y="435.0">ghC</text>
<text x="1241.9" y="460.3">ghC</text>
<text x="1232.7" y="495.8">hAB</text>
<text x="1388.7" y="73.9">aA</text>
<text x="1390.5" y="162.9">bB</text>
<text x="1391.2" y="233.5">cB</text>
<text x="1390.9" y="277.9">cdBC</text>
<text x="1392.0" y="307.4">dBC</text>
<text x="1390.5" y="333.6">deBC</text>
<text x="1392.7" y="369.4">efB</text>
<text x="1394.3" y="394.5">fgB</text>
<text x="1392.0" y="428.7">ghBC</text>
<text x="1395.8" y="468.3">hA</text>
<text x="1534.7" y="49.6">aA</text>
<text x="1538.4" y="141.1">bAB</text>
<text x="1536.4" y="194.1">cA</text>
<text x="1535.9" y="234.6">cdAB</text>
<text x="1537.7" y="266.6">dAB</text>
<text x="1537.6" y="297.6">deAB</text>
<text x="1539.5" y="333.3">efB</text>
<text x="1540.9" y="369.2">fgB</text>
<text x="1540.9" y="399.6">ghAB</text>
<text x="1543.7" y="439.5">hA</text>
<text x="1685.2" y="45.4">aA</text>
<text x="1687.7" y="125.8">bA</text>
<text x="1686.9" y="170.3">bcA</text>
<text x="1685.9" y="206.6">cdA</text>
<text x="1685.9" y="237.8">cdA</text>
<text x="1686.9" y="268.6">dA</text>
<text x="1687.6" y="304.6">deA</text>
<text x="1687.6" y="343.2">efA</text>
<text x="1689.6" y="382.0">fgA</text>
<text x="1693.0" y="423.9">gA</text>
<path d="M1735.6 24.5H1789.4" stroke="#000" stroke-width="3.0" stroke-linecap="round"/>
<path d="M1754.5 24.5L1762.5 17.0L1770.5 24.5L1762.5 32.0Z" fill="#1c1c1c" filter="url(#soft)"/>
<text x="1796.3" y="33.8" letter-spacing="0">EDTA</text>
<path d="M1735.6 70.2H1789.4" stroke="#2a2a2a" stroke-width="3.0" stroke-linecap="round"/>
<circle cx="1762.5" cy="70.2" r="8.6" fill="none" stroke="#000" stroke-width="3"/>
<text x="1796.3" y="79.5" letter-spacing="0">T3LLPL</text>
<path d="M1735.6 116.0H1789.4" stroke="#000" stroke-width="3.0" stroke-linecap="round"/>
<path d="M1762.5 108.4L1770.1 123.6L1754.9 123.6Z" fill="#000" stroke="#000" stroke-width="7.8" stroke-linejoin="round"/>
<text x="1796.3" y="125.3" letter-spacing="0">T3LLPM</text>
<path d="M1735.6 161.8H1789.4" stroke="#000" stroke-width="3.0" stroke-linecap="round"/>
<path d="M1762.5 156.2L1768.5 168.6L1756.5 168.6Z" fill="#fff" stroke="#000" stroke-width="3.3" stroke-linejoin="miter"/>
<text x="1796.3" y="171.1" letter-spacing="0">T3LLPS</text>
<path d="M1735.6 207.5H1789.4" stroke="#000" stroke-width="3.0" stroke-linecap="round"/>
<path d="M1755.7 200.7L1769.3 214.3M1755.7 214.3L1769.3 200.7" stroke="#000" stroke-width="7.8" stroke-linecap="butt" fill="none"/>
<text x="1796.3" y="216.8" letter-spacing="0">T2LLPL</text>
<path d="M1735.6 253.2H1789.4" stroke="#000" stroke-width="3.0" stroke-linecap="round"/>
<circle cx="1762.5" cy="253.2" r="8.1" fill="#000"/>
<text x="1796.3" y="262.6" letter-spacing="0">T2LLPM</text>
<path d="M1735.6 299.0H1789.4" stroke="#000" stroke-width="3.0" stroke-linecap="round"/>
<rect x="1754.1" y="290.6" width="16.8" height="16.8" rx="1" fill="#000"/>
<text x="1796.3" y="308.3" letter-spacing="0">T2LLPS</text>
<path d="M1735.6 344.8H1789.4" stroke="#000" stroke-width="3.0" stroke-linecap="round"/>
<path d="M1754.9 344.8L1762.5 336.6L1770.1 344.8L1762.5 353.0Z" fill="none" stroke="#000" stroke-width="3" stroke-linejoin="miter"/>
<text x="1796.3" y="354.1" letter-spacing="0">T1LLPL</text>
<path d="M1735.6 390.5H1789.4" stroke="#000" stroke-width="3.0" stroke-linecap="round"/>
<rect x="1754.0" y="387.5" width="17" height="6" rx="1.5" fill="#000"/>
<text x="1796.3" y="399.8" letter-spacing="0">T1LLPM</text>
<path d="M1735.6 436.2H1789.4" stroke="#000" stroke-width="3.0" stroke-linecap="round"/>
<path d="M1753.5 436.2L1762.5 427.2L1771.5 436.2L1762.5 445.2Z" fill="#000" stroke="#000" stroke-width="1.2" stroke-linejoin="round"/>
<text x="1796.3" y="445.6" letter-spacing="0">T1LLPS</text>
</g>
<g id="chartC">
<clipPath id="clipC"><rect x="74.4" y="661.8" width="634.4" height="495.9"/></clipPath>
<polyline points="94.4,1128.7 247.4,841.2 400.4,818.6 553.4,735.3 706.4,704.3" fill="none" stroke="#000" stroke-width="3.0" stroke-linejoin="round" stroke-linecap="round"/>
<path d="M86.4 1128.7L94.4 1121.2L102.4 1128.7L94.4 1136.2Z" fill="#1c1c1c" filter="url(#soft)"/>
<path d="M239.4 841.2L247.4 833.7L255.4 841.2L247.4 848.7Z" fill="#1c1c1c" filter="url(#soft)"/>
<path d="M392.4 818.6L400.4 811.1L408.4 818.6L400.4 826.1Z" fill="#1c1c1c" filter="url(#soft)"/>
<path d="M545.4 735.3L553.4 727.8L561.4 735.3L553.4 742.8Z" fill="#1c1c1c" filter="url(#soft)"/>
<path d="M698.4 704.3L706.4 696.8L714.4 704.3L706.4 711.8Z" fill="#1c1c1c" filter="url(#soft)"/>
<path clip-path="url(#clipC)" stroke="#000" stroke-width="3" fill="none" d="M247.4 826.8V855.6M240.9 826.8H253.9M240.9 855.6H253.9M400.4 803.4V833.8M393.9 803.4H406.9M393.9 833.8H406.9M553.4 715.5V755.1M546.9 715.5H559.9M546.9 755.1H559.9M706.4 683.3V725.3M699.9 683.3H712.9M699.9 725.3H712.9"/>
<polyline points="94.4,1128.7 247.4,1083.5 400.4,1067.3 553.4,1055.7 706.4,1041.9" fill="none" stroke="#2a2a2a" stroke-width="3.0" stroke-linejoin="round" stroke-linecap="round"/>
<circle cx="94.4" cy="1128.7" r="8.6" fill="none" stroke="#000" stroke-width="3"/>
<circle cx="247.4" cy="1083.5" r="8.6" fill="none" stroke="#000" stroke-width="3"/>
<circle cx="400.4" cy="1067.3" r="8.6" fill="none" stroke="#000" stroke-width="3"/>
<circle cx="553.4" cy="1055.7" r="8.6" fill="none" stroke="#000" stroke-width="3"/>
<circle cx="706.4" cy="1041.9" r="8.6" fill="none" stroke="#000" stroke-width="3"/>
<path clip-path="url(#clipC)" stroke="#000" stroke-width="3" fill="none" d="M247.4 1081.5V1085.5M240.9 1081.5H253.9M240.9 1085.5H253.9M400.4 1064.3V1070.3M393.9 1064.3H406.9M393.9 1070.3H406.9M553.4 1052.7V1058.7M546.9 1052.7H559.9M546.9 1058.7H559.9M706.4 1038.9V1044.9M699.9 1038.9H712.9M699.9 1044.9H712.9"/>
<polyline points="94.4,1128.7 247.4,1034 400.4,1015.5 553.4,1004 706.4,988.7" fill="none" stroke="#000" stroke-width="3.0" stroke-linejoin="round" stroke-linecap="round"/>
<path d="M94.4 1121.1L102.0 1136.3L86.8 1136.3Z" fill="#000" stroke="#000" stroke-width="7.8" stroke-linejoin="round"/>
<path d="M247.4 1026.4L255.0 1041.6L239.8 1041.6Z" fill="#000" stroke="#000" stroke-width="7.8" stroke-linejoin="round"/>
<path d="M400.4 1007.9L408.0 1023.1L392.8 1023.1Z" fill="#000" stroke="#000" stroke-width="7.8" stroke-linejoin="round"/>
<path d="M553.4 996.4L561.0 1011.6L545.8 1011.6Z" fill="#000" stroke="#000" stroke-width="7.8" stroke-linejoin="round"/>
<path d="M706.4 981.1L714.0 996.3L698.8 996.3Z" fill="#000" stroke="#000" stroke-width="7.8" stroke-linejoin="round"/>
<path clip-path="url(#clipC)" stroke="#000" stroke-width="3" fill="none" d="M247.4 1030.0V1038.0M240.9 1030.0H253.9M240.9 1038.0H253.9M400.4 1011.5V1019.5M393.9 1011.5H406.9M393.9 1019.5H406.9M553.4 1000.0V1008.0M546.9 1000.0H559.9M546.9 1008.0H559.9M706.4 984.7V992.7M699.9 984.7H712.9M699.9 992.7H712.9"/>
<polyline points="94.4,1128.7 247.4,994.5 400.4,978.1 553.4,959.7 706.4,926.9" fill="none" stroke="#000" stroke-width="3.5" stroke-linejoin="round" stroke-linecap="round" shape-rendering="crispEdges"/>
<path d="M94.4 1123.1L100.4 1135.5L88.4 1135.5Z" fill="#fff" stroke="#000" stroke-width="3.3" stroke-linejoin="miter"/>
<path d="M247.4 988.9L253.4 1001.3L241.4 1001.3Z" fill="#fff" stroke="#000" stroke-width="3.3" stroke-linejoin="miter"/>
<path d="M400.4 972.5L406.4 984.9L394.4 984.9Z" fill="#fff" stroke="#000" stroke-width="3.3" stroke-linejoin="miter"/>
<path d="M553.4 954.1L559.4 966.5L547.4 966.5Z" fill="#fff" stroke="#000" stroke-width="3.3" stroke-linejoin="miter"/>
<path d="M706.4 921.3L712.4 933.7L700.4 933.7Z" fill="#fff" stroke="#000" stroke-width="3.3" stroke-linejoin="miter"/>
<path clip-path="url(#clipC)" stroke="#000" stroke-width="3" fill="none" d="M247.4 990.5V998.5M240.9 990.5H253.9M240.9 998.5H253.9M400.4 973.1V983.1M393.9 973.1H406.9M393.9 983.1H406.9M553.4 956.7V962.7M546.9 956.7H559.9M546.9 962.7H559.9M706.4 920.9V932.9M699.9 920.9H712.9M699.9 932.9H712.9"/>
<polyline points="94.4,1128.7 247.4,1058.3 400.4,1044.7 553.4,1035.4 706.4,1019" fill="none" stroke="#000" stroke-width="3.0" stroke-linejoin="round" stroke-linecap="round"/>
<path d="M87.6 1121.9L101.2 1135.5M87.6 1135.5L101.2 1121.9" stroke="#000" stroke-width="7.8" stroke-linecap="butt" fill="none"/>
<path d="M240.6 1051.5L254.2 1065.1M240.6 1065.1L254.2 1051.5" stroke="#000" stroke-width="7.8" stroke-linecap="butt" fill="none"/>
<path d="M393.6 1037.9L407.2 1051.5M393.6 1051.5L407.2 1037.9" stroke="#000" stroke-width="7.8" stroke-linecap="butt" fill="none"/>
<path d="M546.6 1028.6L560.2 1042.2M546.6 1042.2L560.2 1028.6" stroke="#000" stroke-width="7.8" stroke-linecap="butt" fill="none"/>
<path d="M699.6 1012.2L713.2 1025.8M699.6 1025.8L713.2 1012.2" stroke="#000" stroke-width="7.8" stroke-linecap="butt" fill="none"/>
<path clip-path="url(#clipC)" stroke="#000" stroke-width="3" fill="none" d="M247.4 1050.2V1066.4M240.9 1050.2H253.9M240.9 1066.4H253.9M400.4 1036.0V1053.4M393.9 1036.0H406.9M393.9 1053.4H406.9M553.4 1023.7V1047.1M546.9 1023.7H559.9M546.9 1047.1H559.9M706.4 1008.0V1030.0M699.9 1008.0H712.9M699.9 1030.0H712.9"/>
<polyline points="94.4,1128.7 247.4,1003.4 400.4,995 553.4,980 706.4,946.6" fill="none" stroke="#000" stroke-width="3.0" stroke-linejoin="round" stroke-linecap="round"/>
<circle cx="94.4" cy="1128.7" r="8.1" fill="#000"/>
<circle cx="247.4" cy="1003.4" r="8.1" fill="#000"/>
<circle cx="400.4" cy="995" r="8.1" fill="#000"/>
<circle cx="553.4" cy="980" r="8.1" fill="#000"/>
<circle cx="706.4" cy="946.6" r="8.1" fill="#000"/>
<path clip-path="url(#clipC)" stroke="#000" stroke-width="3" fill="none" d="M247.4 999.4V1007.4M240.9 999.4H253.9M240.9 1007.4H253.9M400.4 991.0V999.0M393.9 991.0H406.9M393.9 999.0H406.9M553.4 972.0V988.0M546.9 972.0H559.9M546.9 988.0H559.9M706.4 937.6V955.6M699.9 937.6H712.9M699.9 955.6H712.9"/>
<polyline points="94.4,1128.7 247.4,967.6 400.4,944.1 553.4,916.6 706.4,860.6" fill="none" stroke="#000" stroke-width="3.0" stroke-linejoin="round" stroke-linecap="round"/>
<rect x="86.0" y="1120.3" width="16.8" height="16.8" rx="1" fill="#000"/>
<rect x="239.0" y="959.2" width="16.8" height="16.8" rx="1" fill="#000"/>
<rect x="392.0" y="935.7" width="16.8" height="16.8" rx="1" fill="#000"/>
<rect x="545.0" y="908.2" width="16.8" height="16.8" rx="1" fill="#000"/>
<rect x="698.0" y="852.2" width="16.8" height="16.8" rx="1" fill="#000"/>
<path clip-path="url(#clipC)" stroke="#000" stroke-width="3" fill="none" d="M247.4 962.6V972.6M240.9 962.6H253.9M240.9 972.6H253.9M400.4 936.1V952.1M393.9 936.1H406.9M393.9 952.1H406.9M553.4 906.1V927.1M546.9 906.1H559.9M546.9 927.1H559.9M706.4 848.6V872.6M699.9 848.6H712.9M699.9 872.6H712.9"/>
<polyline points="94.4,1128.7 247.4,1023.5 400.4,1005.9 553.4,993.3 706.4,975.6" fill="none" stroke="#000" stroke-width="3.0" stroke-linejoin="round" stroke-linecap="round"/>
<path d="M82.6 1128.7L94.4 1116.9L106.2 1128.7L94.4 1140.5Z" fill="none" stroke="#000" stroke-width="3.3" stroke-linejoin="miter"/>
<path d="M235.6 1023.5L247.4 1011.7L259.2 1023.5L247.4 1035.3Z" fill="none" stroke="#000" stroke-width="3.3" stroke-linejoin="miter"/>
<path d="M388.6 1005.9L400.4 994.1L412.2 1005.9L400.4 1017.7Z" fill="none" stroke="#000" stroke-width="3.3" stroke-linejoin="miter"/>
<path d="M541.6 993.3L553.4 981.5L565.2 993.3L553.4 1005.1Z" fill="none" stroke="#000" stroke-width="3.3" stroke-linejoin="miter"/>
<path d="M694.6 975.6L706.4 963.8L718.2 975.6L706.4 987.4Z" fill="none" stroke="#000" stroke-width="3.3" stroke-linejoin="miter"/>
<path clip-path="url(#clipC)" stroke="#000" stroke-width="3" fill="none" d="M247.4 1019.5V1027.5M240.9 1019.5H253.9M240.9 1027.5H253.9M400.4 1001.9V1009.9M393.9 1001.9H406.9M393.9 1009.9H406.9M553.4 989.3V997.3M546.9 989.3H559.9M546.9 997.3H559.9M706.4 970.6V980.6M699.9 970.6H712.9M699.9 980.6H712.9"/>
<polyline points="94.4,1128.7 247.4,981.9 400.4,961.8 553.4,941.6 706.4,907.1" fill="none" stroke="#000" stroke-width="3.0" stroke-linejoin="round" stroke-linecap="round"/>
<rect x="85.9" y="1125.7" width="17" height="6" rx="1.5" fill="#000"/>
<rect x="238.9" y="978.9" width="17" height="6" rx="1.5" fill="#000"/>
<rect x="391.9" y="958.8" width="17" height="6" rx="1.5" fill="#000"/>
<rect x="544.9" y="938.6" width="17" height="6" rx="1.5" fill="#000"/>
<rect x="697.9" y="904.1" width="17" height="6" rx="1.5" fill="#000"/>
<path clip-path="url(#clipC)" stroke="#000" stroke-width="3" fill="none" d="M247.4 976.9V986.9M240.9 976.9H253.9M240.9 986.9H253.9M400.4 956.8V969.8M393.9 956.8H406.9M393.9 969.8H406.9M553.4 927.6V949.1M546.9 927.6H559.9M546.9 949.1H559.9M706.4 888.1V926.1M699.9 888.1H712.9M699.9 926.1H712.9"/>
<polyline points="94.4,1128.7 247.4,951.2 400.4,921.3 553.4,858 706.4,818.5" fill="none" stroke="#000" stroke-width="3.0" stroke-linejoin="round" stroke-linecap="round"/>
<path d="M85.4 1128.7L94.4 1119.7L103.4 1128.7L94.4 1137.7Z" fill="#000" stroke="#000" stroke-width="1.2" stroke-linejoin="round"/>
<path d="M238.4 951.2L247.4 942.2L256.4 951.2L247.4 960.2Z" fill="#000" stroke="#000" stroke-width="1.2" stroke-linejoin="round"/>
<path d="M391.4 921.3L400.4 912.3L409.4 921.3L400.4 930.3Z" fill="#000" stroke="#000" stroke-width="1.2" stroke-linejoin="round"/>
<path d="M544.4 858L553.4 849L562.4 858L553.4 867Z" fill="#000" stroke="#000" stroke-width="1.2" stroke-linejoin="round"/>
<path d="M697.4 818.5L706.4 809.5L715.4 818.5L706.4 827.5Z" fill="#000" stroke="#000" stroke-width="1.2" stroke-linejoin="round"/>
<path clip-path="url(#clipC)" stroke="#000" stroke-width="3" fill="none" d="M247.4 917.6V984.8M240.9 917.6H253.9M240.9 984.8H253.9M400.4 881.6V961.0M393.9 881.6H406.9M393.9 961.0H406.9M553.4 807.0V906.0M546.9 807.0H559.9M546.9 906.0H559.9M706.4 759.7V877.3M699.9 759.7H712.9M699.9 877.3H712.9"/>
<path d="M94.4 662.8V1128.7H706.4" fill="none" stroke="#000" stroke-width="2.2" stroke-linejoin="miter" stroke-linecap="square"/>
<path d="M94.4 1128.7h8.5" stroke="#000" stroke-width="2.2"/>
<text x="70.2" y="1137.7" text-anchor="end">0</text>
<path d="M94.4 1082.1h8.5" stroke="#000" stroke-width="2.2"/>
<text x="70.2" y="1091.1" text-anchor="end">0.2</text>
<path d="M94.4 1035.5h8.5" stroke="#000" stroke-width="2.2"/>
<text x="70.2" y="1044.5" text-anchor="end">0.4</text>
<path d="M94.4 988.9h8.5" stroke="#000" stroke-width="2.2"/>
<text x="70.2" y="997.9" text-anchor="end">0.6</text>
<path d="M94.4 942.3h8.5" stroke="#000" stroke-width="2.2"/>
<text x="70.2" y="951.3" text-anchor="end">0.8</text>
<path d="M94.4 895.8h8.5" stroke="#000" stroke-width="2.2"/>
<text x="70.2" y="904.8" text-anchor="end">1</text>
<path d="M94.4 849.2h8.5" stroke="#000" stroke-width="2.2"/>
<text x="70.2" y="858.2" text-anchor="end">1.2</text>
<path d="M94.4 802.6h8.5" stroke="#000" stroke-width="2.2"/>
<text x="70.2" y="811.6" text-anchor="end">1.4</text>
<path d="M94.4 756.0h8.5" stroke="#000" stroke-width="2.2"/>
<text x="70.2" y="765.0" text-anchor="end">1.6</text>
<path d="M94.4 709.4h8.5" stroke="#000" stroke-width="2.2"/>
<text x="70.2" y="718.4" text-anchor="end">1.8</text>
<path d="M94.4 662.8h8.5" stroke="#000" stroke-width="2.2"/>
<text x="70.2" y="671.8" text-anchor="end">2</text>
<path d="M94.4 1128.7v-8" stroke="#000" stroke-width="2.2"/>
<text x="90.8" y="1169.6" text-anchor="middle">0.00</text>
<path d="M247.4 1128.7v-8" stroke="#000" stroke-width="2.2"/>
<text x="243.8" y="1169.6" text-anchor="middle">0.10</text>
<path d="M400.4 1128.7v-8" stroke="#000" stroke-width="2.2"/>
<text x="396.8" y="1169.6" text-anchor="middle">0.25</text>
<path d="M553.4 1128.7v-8" stroke="#000" stroke-width="2.2"/>
<text x="549.8" y="1169.6" text-anchor="middle">0.50</text>
<path d="M706.4 1128.7v-8" stroke="#000" stroke-width="2.2"/>
<text x="702.8" y="1169.6" text-anchor="middle">1.00</text>
<text x="419.4" y="1190.3" text-anchor="middle" font-weight="bold" font-size="28.2">Concentration (%)</text>
<text transform="translate(26.3 927.9) rotate(-90)" text-anchor="middle" font-weight="bold" font-size="28.1">Reducing power (O.D)</text>
<text x="457.5" y="713" font-weight="bold" font-size="50">C</text>
<text x="133.8" y="864.8">aE</text>
<text x="130.5" y="885.7">aE</text>
<text x="132.5" y="906.4">aE</text>
<text x="132.3" y="927.7">aE</text>
<text x="130.7" y="949.0">aE</text>
<text x="130.7" y="970.9">aE</text>
<text x="133.3" y="991.1">aE</text>
<text x="132.5" y="1013.8">aE</text>
<text x="130.7" y="1039.0">aE</text>
<text x="130.7" y="1062.9">aE</text>
<text x="275.4" y="838.3">aD</text>
<text x="270.4" y="934.4">bD</text>
<text x="272.4" y="957.6">cD</text>
<text x="271.1" y="977.2">dD</text>
<text x="272.4" y="994.4">eD</text>
<text x="274.9" y="1015.5">fD</text>
<text x="273.7" y="1031.4">gD</text>
<text x="274.2" y="1054.9">hD</text>
<text x="275.7" y="1081.1">iC</text>
<text x="273.7" y="1108.3">jD</text>
<text x="414.8" y="811.1">aC</text>
<text x="414.8" y="905.1">bC</text>
<text x="417.7" y="929.2">cC</text>
<text x="417.9" y="957.6">dC</text>
<text x="419.4" y="980.2">eC</text>
<text x="422.4" y="1002.4">fC</text>
<text x="417.4" y="1024.4">gC</text>
<text x="418.1" y="1050.8">hC</text>
<text x="420.4" y="1070.0">iB</text>
<text x="417.4" y="1097.0">jC</text>
<text x="568.5" y="730.3">aB</text>
<text x="577.3" y="867.2">bB</text>
<text x="572.8" y="903.3">cB</text>
<text x="573.9" y="934.2">dB</text>
<text x="577.8" y="952.8">eB</text>
<text x="581.6" y="978.5">fB</text>
<text x="581.1" y="1004.4">fgB</text>
<text x="583.6" y="1023.9">gB</text>
<text x="581.6" y="1054.6">hB</text>
<text x="582.3" y="1086.9">iB</text>
<text x="725.5" y="704.6">aA</text>
<text x="729.8" y="822.6">bA</text>
<text x="729.8" y="868.5">cA</text>
<text x="729.8" y="899.5">dA</text>
<text x="729.8" y="921.4">eA</text>
<text x="731.1" y="948.7">fA</text>
<text x="732.3" y="974.7">gA</text>
<text x="731.1" y="998.7">gA</text>
<text x="729.8" y="1026.4">hA</text>
<text x="733.6" y="1050.8">iA</text>
<path d="M782.3 690.4H835" stroke="#000" stroke-width="3.0" stroke-linecap="round"/>
<path d="M800.6 690.4L808.6 682.9L816.6 690.4L808.6 697.9Z" fill="#1c1c1c" filter="url(#soft)"/>
<text x="843.1" y="699.7" letter-spacing="-0.6">AA</text>
<path d="M782.3 734.4H835" stroke="#2a2a2a" stroke-width="3.0" stroke-linecap="round"/>
<circle cx="808.6" cy="734.4" r="8.6" fill="none" stroke="#000" stroke-width="3"/>
<text x="843.1" y="743.7" letter-spacing="0">T3LLPL</text>
<path d="M782.3 778.4H835" stroke="#000" stroke-width="3.0" stroke-linecap="round"/>
<path d="M808.6 770.8L816.2 786.0L801.0 786.0Z" fill="#000" stroke="#000" stroke-width="7.8" stroke-linejoin="round"/>
<text x="843.1" y="787.7" letter-spacing="0">T3LLPM</text>
<path d="M782.3 822.4H835" stroke="#000" stroke-width="3.0" stroke-linecap="round"/>
<path d="M808.6 816.8L814.6 829.2L802.6 829.2Z" fill="#fff" stroke="#000" stroke-width="3.3" stroke-linejoin="miter"/>
<text x="843.1" y="831.7" letter-spacing="0">T3LLPS</text>
<path d="M782.3 866.4H835" stroke="#000" stroke-width="3.0" stroke-linecap="round"/>
<path d="M801.8 859.6L815.4 873.2M801.8 873.2L815.4 859.6" stroke="#000" stroke-width="7.8" stroke-linecap="butt" fill="none"/>
<text x="843.1" y="875.7" letter-spacing="0">T2LLPL</text>
<path d="M782.3 910.4H835" stroke="#000" stroke-width="3.0" stroke-linecap="round"/>
<circle cx="808.6" cy="910.4" r="8.1" fill="#000"/>
<text x="843.1" y="919.7" letter-spacing="0">T2LLPM</text>
<path d="M782.3 954.4H835" stroke="#000" stroke-width="3.0" stroke-linecap="round"/>
<rect x="800.2" y="946.0" width="16.8" height="16.8" rx="1" fill="#000"/>
<text x="843.1" y="963.7" letter-spacing="0">T2LLPS</text>
<path d="M782.3 998.4H835" stroke="#000" stroke-width="3.0" stroke-linecap="round"/>
<path d="M801.0 998.4L808.6 990.2L816.2 998.4L808.6 1006.6Z" fill="none" stroke="#000" stroke-width="3" stroke-linejoin="miter"/>
<text x="843.1" y="1007.7" letter-spacing="0">T1LLPL</text>
<path d="M782.3 1042.4H835" stroke="#000" stroke-width="3.0" stroke-linecap="round"/>
<rect x="800.1" y="1039.4" width="17" height="6" rx="1.5" fill="#000"/>
<text x="843.1" y="1051.7" letter-spacing="0">T1LLPM</text>
<path d="M782.3 1086.4H835" stroke="#000" stroke-width="3.0" stroke-linecap="round"/>
<path d="M799.6 1086.4L808.6 1077.4L817.6 1086.4L808.6 1095.4Z" fill="#000" stroke="#000" stroke-width="1.2" stroke-linejoin="round"/>
<text x="843.1" y="1095.7" letter-spacing="0">T1LLPS</text>
</g>
</svg>
</body></html>
